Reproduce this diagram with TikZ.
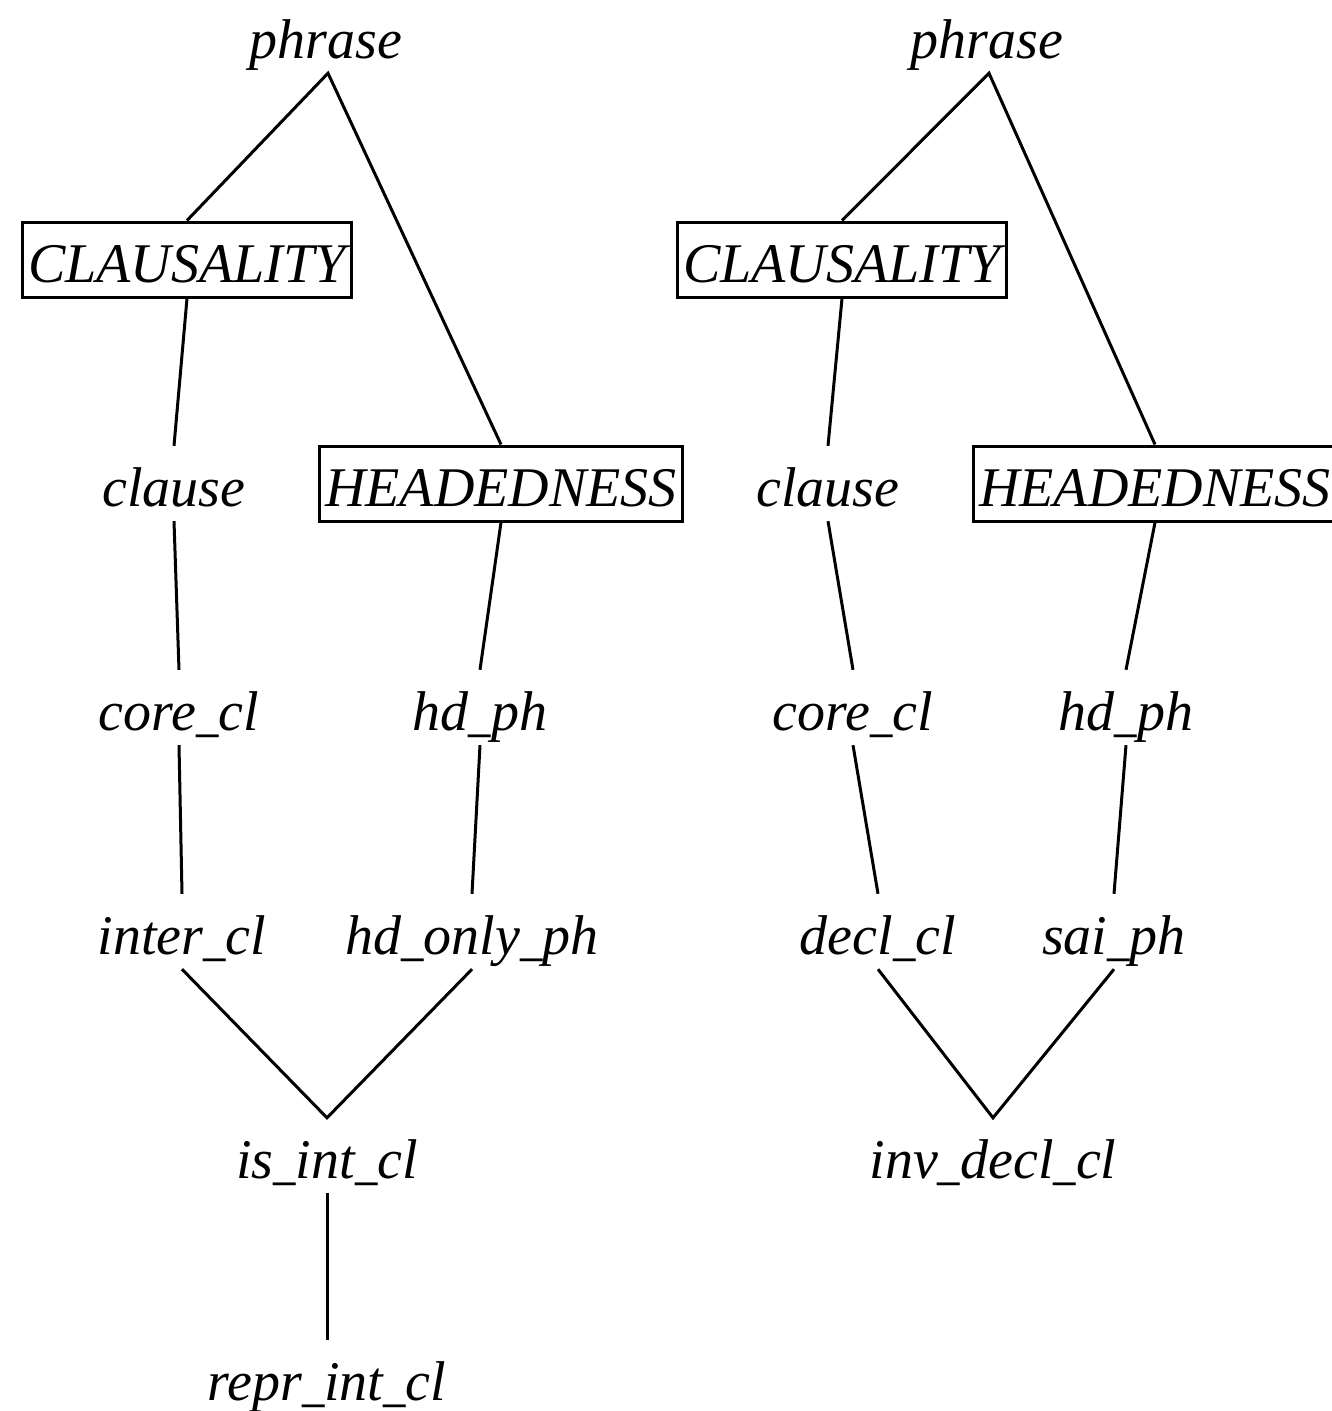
\documentclass[tikz,border=0pt]{standalone}
\usepackage{fontspec}
\setmainfont{Liberation Serif}
\newcommand{\usc}{\scalebox{0.8}[1]{\_}}
\begin{document}
\begin{tikzpicture}[x=1pt,y=-1pt,
  lbl/.style={font=\fontsize{56}{60}\selectfont\itshape, text height=45pt, text depth=0pt, inner ysep=15pt, inner xsep=3pt},
  boxed/.style={lbl, draw, line width=3pt, inner xsep=6pt},
  edge/.style={line width=3pt}]
\useasboundingbox (0,0) rectangle (1332,1411);
% left tree
\node[lbl]   (p1)  at (326,35.5)   {phrase};
\node[boxed] (c1)  at (187,259.5)  {CLAUSALITY};
\node[lbl]   (cl1) at (174,483.5)  {clause};
\node[boxed] (h1)  at (501,483.5)  {HEADEDNESS};
\node[lbl]   (co1) at (179,707.5)  {core\usc cl};
\node[lbl]   (hd1) at (480,707.5)  {hd\usc ph};
\node[lbl]   (in1) at (182,931.5)  {inter\usc cl};
\node[lbl]   (ho1) at (472,931.5)  {hd\usc only\usc ph};
\node[lbl]   (is1) at (327,1155.5) {is\usc int\usc cl};
\node[lbl]   (re1) at (327,1378)   {repr\usc int\usc cl};
\draw[edge] (c1.north) -- ([xshift=2pt]p1.south) -- (h1.north);
\draw[edge] (c1.south) -- (cl1.north);
\draw[edge] (cl1.south) -- (co1.north);
\draw[edge] (co1.south) -- (in1.north);
\draw[edge] (h1.south) -- (hd1.north);
\draw[edge] (hd1.south) -- (ho1.north);
\draw[edge] (in1.south) -- (is1.north) -- (ho1.south);
\draw[edge] (is1.south) -- (re1.north);
% right tree
\node[lbl]   (p2)  at (987,35.5)   {phrase};
\node[boxed] (c2)  at (842,259.5)  {CLAUSALITY};
\node[lbl]   (cl2) at (828,483.5)  {clause};
\node[boxed] (h2)  at (1155,483.5) {HEADEDNESS};
\node[lbl]   (co2) at (853,707.5)  {core\usc cl};
\node[lbl]   (hd2) at (1126,707.5) {hd\usc ph};
\node[lbl]   (de2) at (878,931.5)  {decl\usc cl};
\node[lbl]   (sa2) at (1114,931.5) {sai\usc ph};
\node[lbl]   (iv2) at (993,1155.5) {inv\usc decl\usc cl};
\draw[edge] (c2.north) -- ([xshift=2pt]p2.south) -- (h2.north);
\draw[edge] (c2.south) -- (cl2.north);
\draw[edge] (cl2.south) -- (co2.north);
\draw[edge] (co2.south) -- (de2.north);
\draw[edge] (h2.south) -- (hd2.north);
\draw[edge] (hd2.south) -- (sa2.north);
\draw[edge] (de2.south) -- (iv2.north) -- (sa2.south);
\end{tikzpicture}
\end{document}
